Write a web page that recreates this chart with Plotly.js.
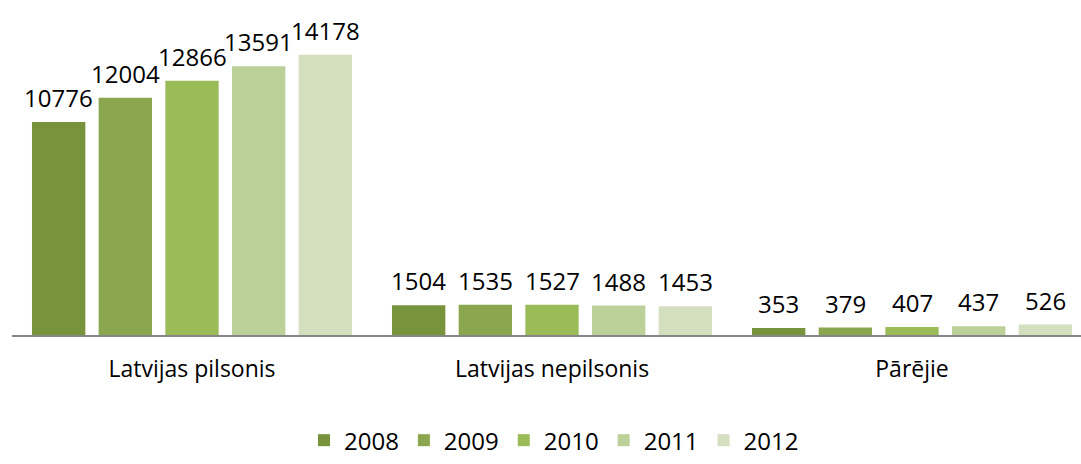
<!DOCTYPE html>
<html><head><meta charset="utf-8">
<script src="https://cdn.plot.ly/plotly-3.0.1.min.js"></script>
<style>html,body{margin:0;padding:0;background:#fff}#c{width:1081px;height:464px}</style>
</head><body><div id="c"></div>
<script>
const categories = ["Latvijas pilsonis", "Latvijas nepilsonis", "Pārējie"];
const years = ["2008", "2009", "2010", "2011", "2012"];
const v2008 = [10776, 1504, 353];
const v2009 = [12004, 1535, 379];
const v2010 = [12866, 1527, 407];
const v2011 = [13591, 1488, 437];
const v2012 = [14178, 1453, 526];
const values = [v2008, v2009, v2010, v2011, v2012];
const colors = ["#77933C", "#8AA64F", "#9BBB59", "#BCD09A", "#D3DFBE"];
const FONT = "Open Sans, Liberation Sans, sans-serif";

const traces = years.map((y, i) => ({
  type: "bar", name: y, x: categories, y: values[i],
  marker: {color: colors[i]}
}));

const slot = 66.7;
const annotations = [];
years.forEach((y, i) => {
  categories.forEach((c, j) => {
    annotations.push({
      x: c, y: values[i][j], xref: "x", yref: "y",
      text: String(values[i][j]), showarrow: false,
      xanchor: "center", yanchor: "bottom",
      xshift: (i - 2) * slot, yshift: 6,
      font: {family: FONT, size: 24, color: "#000"}
    });
  });
});

const layout = {
  width: 1081, height: 464,
  margin: {l: 12, r: 0, t: 20, b: 129, autoexpand: false},
  paper_bgcolor: "#fff", plot_bgcolor: "#fff",
  barmode: "group", bargap: 0.074, bargroupgap: 0.2,
  font: {family: FONT, size: 24, color: "#000"},
  xaxis: {range: [-0.5, 2.4694], showline: true, linecolor: "#868686", linewidth: 2,
          ticks: "", showgrid: false, ticklabelstandoff: 12,
          tickfont: {family: FONT, size: 23, color: "#000"}, automargin: false},
  yaxis: {range: [0, 15934], visible: false, showgrid: false, zeroline: false, fixedrange: true},
  annotations: annotations,
  showlegend: true,
  legend: {orientation: "h", x: 0.507, xanchor: "center", yref: "container", y: 0.002, yanchor: "bottom",
           font: {family: FONT, size: 24, color: "#000"}, traceorder: "normal"}
};
Plotly.newPlot("c", traces, layout, {displayModeBar: false, staticPlot: true});
</script></body></html>
